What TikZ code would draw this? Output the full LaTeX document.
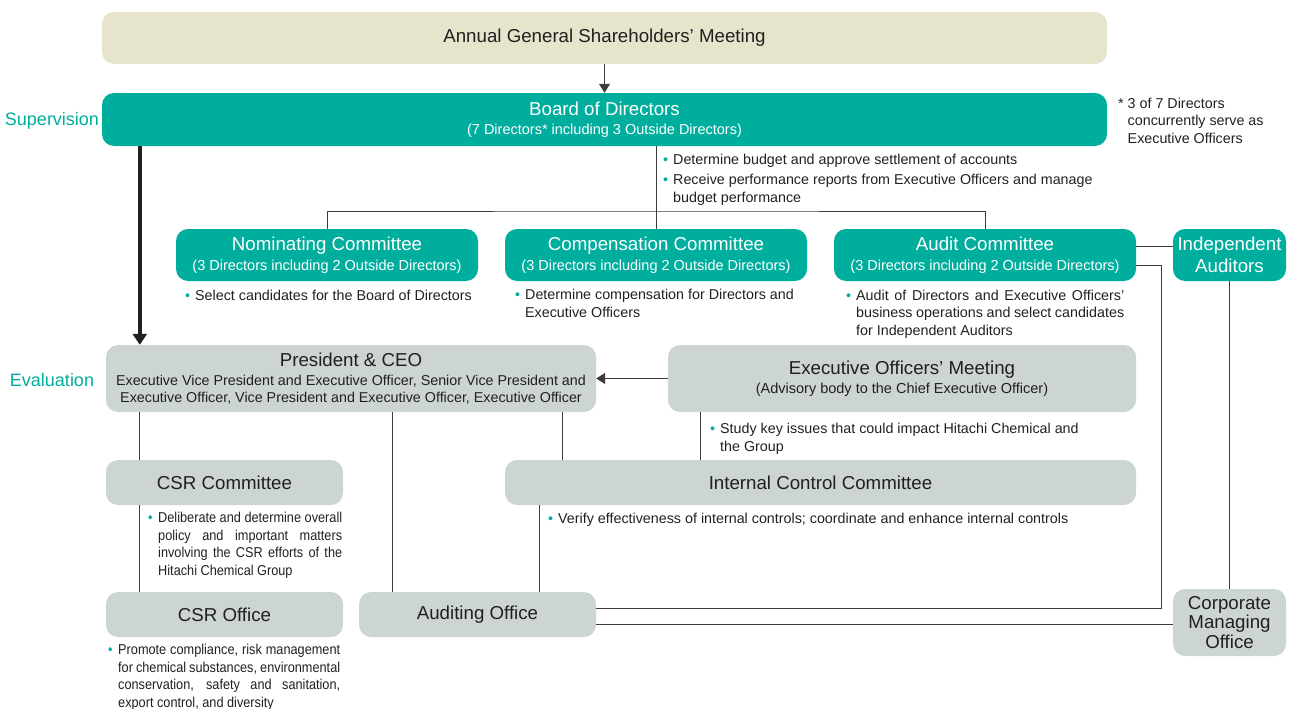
\documentclass[tikz,border=0pt]{standalone}
\usepackage{fontspec}
\setmainfont{Liberation Sans}
\newfontfamily\narrowsf[FakeStretch=0.89]{Liberation Sans}
\usetikzlibrary{arrows.meta}
\definecolor{hcTeal}{RGB}{0,174,157}
\definecolor{hcGray}{RGB}{204,213,211}
\definecolor{hcBeige}{RGB}{231,228,204}
\definecolor{hcText}{RGB}{35,31,32}
\definecolor{hcLine}{RGB}{60,60,60}

\newcommand{\titlesz}{\fontsize{18.7}{21}\selectfont}
\newcommand{\subsz}{\fontsize{14.5}{17}\selectfont}
\newcommand{\dutysz}{\fontsize{14.3}{17.5}\selectfont}
\newlength{\bulw}\setlength{\bulw}{10pt}
\newcommand{\bul}{\makebox[\bulw][l]{\textcolor{hcTeal}{\textbullet}}}
\newcommand{\bulind}{\hspace*{\bulw}}
\newcommand{\jl}[2]{\makebox[#1][s]{#2}}

\tikzset{
  tealbox/.style={fill=hcTeal, text=white, rounded corners=12pt, font=\titlesz, align=center, inner sep=0pt},
  graybox/.style={fill=hcGray, text=hcText, rounded corners=12pt, font=\titlesz, align=center, inner sep=0pt},
  duty/.style={anchor=base west, font=\dutysz, text=hcText, align=left, inner sep=0pt},
  link/.style={draw=hcLine, line width=1pt},
  side/.style={text=hcTeal, font=\fontsize{18}{21}\selectfont, inner sep=0pt},
}

\begin{document}
\begin{tikzpicture}[x=1pt, y=-1pt]
\useasboundingbox (0,0) rectangle (1290,709);

% shareholders and board (duty texts sit on their last baseline)
\node[graybox, fill=hcBeige, minimum width=1005pt, minimum height=52pt] (agm) at (604.5,38) {Annual General Shareholders’ Meeting};
\node[tealbox, minimum width=1005pt, minimum height=53pt] (board) at (604.5,119.5) {Board of Directors\\[-2.5pt]{\subsz (7 Directors* including 3 Outside Directors)}};
\node[side] (sup) at (52,121) {Supervision};
\node[duty] (note) at (1118,143) {* 3 of 7 Directors\\\hspace*{9.5pt}concurrently serve as\\\hspace*{9.5pt}Executive Officers};
\node[duty] (bddt) at (663,202) {\bul Determine budget and approve settlement of accounts\\[2.5pt]\bul Receive performance reports from Executive Officers and manage\\\bulind budget performance};

% committees
\node[tealbox, minimum width=302pt, minimum height=52pt] (nom) at (327,255) {Nominating Committee\\[-0.5pt]{\subsz (3 Directors including 2 Outside Directors)}};
\node[tealbox, minimum width=302pt, minimum height=52pt] (cmp) at (656,255) {Compensation Committee\\[-0.5pt]{\subsz (3 Directors including 2 Outside Directors)}};
\node[tealbox, minimum width=302pt, minimum height=52pt] (aud) at (985,255) {Audit Committee\\[-0.5pt]{\subsz (3 Directors including 2 Outside Directors)}};
\node[tealbox, minimum width=113pt, minimum height=52pt] (ind) at (1229.5,255) {Independent\\[1pt]Auditors};
\node[duty] (nomdt) at (185,300) {\bul Select candidates for the Board of Directors};
\node[duty] (cmpdt) at (515,317) {\bul Determine compensation for Directors and\\\bulind Executive Officers};
\node[duty] (auddt) at (846,335) {\bul\jl{268pt}{Audit of Directors and Executive Officers’}\\\bulind\jl{268pt}{business operations and select candidates}\\\bulind for Independent Auditors};

% execution
\node[graybox, minimum width=490pt, minimum height=67pt] (pres) at (351,378.5) {President \& CEO\\[-1.7pt]{\dutysz Executive Vice President and Executive Officer, Senior Vice President and}\\[-4pt]{\dutysz Executive Officer, Vice President and Executive Officer, Executive Officer}};
\node[side] (eva) at (52,380) {Evaluation};
\node[graybox, minimum width=468pt, minimum height=67pt] (eom) at (902,378.5) {Executive Officers’ Meeting\\[-2.5pt]{\subsz (Advisory body to the Chief Executive Officer)}};
\node[duty] (eomdt) at (710,451) {\bul Study key issues that could impact Hitachi Chemical and\\\bulind the Group};

\node[graybox, minimum width=237pt, minimum height=45pt] (csrc) at (224.5,482.5) {CSR Committee};
\node[graybox, minimum width=631pt, minimum height=45pt] (icc) at (820.5,482.5) {Internal Control Committee};
\node[duty, font=\narrowsf\dutysz] (csrcdt) at (148,575) {\bul\jl{184pt}{Deliberate and determine overall}\\\bulind\jl{184pt}{policy and important matters}\\\bulind\jl{184pt}{involving the CSR efforts of the}\\\bulind Hitachi Chemical Group};
\node[duty] (iccdt) at (548,523) {\bul Verify effectiveness of internal controls; coordinate and enhance internal controls};

\node[graybox, minimum width=237pt, minimum height=45pt] (csro) at (224.5,614.5) {CSR Office};
\node[graybox, minimum width=237pt, minimum height=45pt] (audo) at (477.5,614.5) {Auditing Office};
\node[graybox, minimum width=113pt, minimum height=67pt] (cmo) at (1229.5,622.5) {Corporate\\[-1.5pt]Managing\\[-1.5pt]Office};
\node[duty, font=\narrowsf\dutysz] (csrodt) at (108,707) {\bul\jl{222pt}{Promote compliance, risk management}\\\bulind\jl{222pt}{for chemical substances, environmental}\\\bulind\jl{222pt}{conservation, safety and sanitation,}\\\bulind export control, and diversity};

% connectors
\coordinate (bar) at (656,211);
\coordinate (audr) at (1161,265);
\draw[link, -{Triangle[width=11pt,length=9pt]}] (agm.south) -- (board.north);
\draw[draw=hcText, line width=4pt, -{Triangle[width=14pt,length=11pt]}] ([xshift=38pt]board.south west) -- ([xshift=34pt]pres.north west);
\draw[link] (board.south -| bar) -- (cmp.north);
\draw[link] (nom.north) |- (bar) -| (aud.north);
\draw[link] ([yshift=9pt]aud.east) -- ([yshift=9pt]aud.east -| ind.west);
\draw[link] ([yshift=-10pt]aud.east) -- (audr) |- ([yshift=6.5pt]audo.east);
\draw[link] ([yshift=-10pt]audo.east) -- ([yshift=-10pt]audo.east -| cmo.west);
\draw[link] (ind.south) -- (cmo.north);
\draw[link, -{Triangle[width=11pt,length=9pt]}] (eom.west) -- (pres.east);
\draw[link] ([xshift=33pt]eom.south west) -- ([xshift=33pt]eom.south west |- icc.north);
\draw[link] ([xshift=34pt]pres.south west) -- ([xshift=34pt]csrc.north west);
\draw[link] ([xshift=34pt]csrc.south west) -- ([xshift=34pt]csro.north west);
\draw[link] ([xshift=34pt]audo.north west) -- ([xshift=34pt]audo.north west |- pres.south);
\draw[link] ([xshift=58pt]icc.north west) -- ([xshift=58pt]icc.north west |- pres.south);
\draw[link] ([xshift=35pt]icc.south west) -- ([xshift=35pt]icc.south west |- audo.north);
\end{tikzpicture}
\end{document}
